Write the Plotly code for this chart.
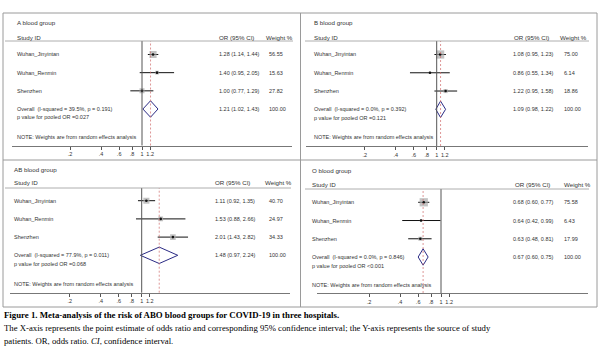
import math
import plotly.graph_objects as go

# ---------------- data ----------------
PANEL_TITLES = ["A blood group", "B blood group", "AB blood group", "O blood group"]
STUDIES = ["Wuhan_Jinyintan", "Wuhan_Renmin", "Shenzhen"]

A_OR = [1.28, 1.40, 1.00]
A_LO = [1.14, 0.95, 0.77]
A_HI = [1.44, 2.05, 1.29]
A_W = [56.55, 15.63, 27.82]
A_POOLED = [1.21, 1.02, 1.43]
A_HET = ["39.5%", "0.191"]
A_PPOOL = "=0.027"

B_OR = [1.08, 0.86, 1.22]
B_LO = [0.95, 0.55, 0.95]
B_HI = [1.23, 1.34, 1.58]
B_W = [75.00, 6.14, 18.86]
B_POOLED = [1.09, 0.98, 1.22]
B_HET = ["0.0%", "0.392"]
B_PPOOL = "=0.121"

AB_OR = [1.11, 1.53, 2.01]
AB_LO = [0.92, 0.88, 1.43]
AB_HI = [1.35, 2.66, 2.82]
AB_W = [40.70, 24.97, 34.33]
AB_POOLED = [1.48, 0.97, 2.24]
AB_HET = ["77.9%", "0.011"]
AB_PPOOL = "=0.068"

O_OR = [0.68, 0.64, 0.63]
O_LO = [0.60, 0.42, 0.48]
O_HI = [0.77, 0.99, 0.81]
O_W = [75.58, 6.43, 17.99]
O_POOLED = [0.67, 0.60, 0.75]
O_HET = ["0.0%", "0.846"]
O_PPOOL = "<0.001"

TICK_VALS = [0.2, 0.4, 0.6, 0.8, 1, 1.2]
TICK_TEXT = [".2", ".4", ".6", ".8", "1", "1.2"]
NULL_OR = 1

CAPTION_TITLE = "Figure 1. Meta-analysis of the risk of ABO blood groups for COVID-19 in three hospitals."
CAPTION_L2 = ("The X-axis represents the point estimate of odds ratio and corresponding 95% confidence "
              "interval; the Y-axis represents the source of study")
CAPTION_L3 = "patients. OR, odds ratio. <i>CI</i>, confidence interval."

PANEL_DATA = [
    (A_OR, A_LO, A_HI, A_W, A_POOLED, A_HET, A_PPOOL),
    (B_OR, B_LO, B_HI, B_W, B_POOLED, B_HET, B_PPOOL),
    (AB_OR, AB_LO, AB_HI, AB_W, AB_POOLED, AB_HET, AB_PPOOL),
    (O_OR, O_LO, O_HI, O_W, O_POOLED, O_HET, O_PPOOL),
]

# ---------------- layout geometry (pixels) ----------------
W, H = 600, 362
PX_PER_DECADE = 102.93
GEOM = [
    dict(null=142.0, ax0=12, ax1=292, hdr=41, axis=145.5, r0=54.5, r3=109.0, p=117.5, note=137.0,
         title=22.5, study=37.5, lab=15, orh=216.5, orv=216.5, wh=264, wv=267, hl0=5, hl1=293),
    dict(null=436.7, ax0=306, ax1=588, hdr=41, axis=146.0, r0=54.5, r3=109.3, p=117.7, note=136.7,
         title=22.7, study=37.5, lab=312, orh=512, orv=510.7, wh=557.7, wv=561.7, hl0=305, hl1=589),
    dict(null=141.7, ax0=10, ax1=290, hdr=188, axis=292.7, r0=200.7, r3=255.3, p=264.3, note=283.7,
         title=169.0, study=182.3, lab=12, orh=213, orv=213, wh=263, wv=267, hl0=5, hl1=291),
    dict(null=441.0, ax0=317, ax1=588, hdr=189, axis=293.0, r0=202.3, r3=257.0, p=266.3, note=284.7,
         title=170.7, study=184.3, lab=310, orh=513, orv=510.7, wh=562, wv=561.7, hl0=305, hl1=589),
]

SANS = "Liberation Sans, Arial, sans-serif"
SERIF = "Liberation Serif, Times New Roman, serif"
TXT = "#333333"
ROW_FS = 5.5
HDR_FS = 6.2


def xp(px):
    return px / W


def yp(py):
    return 1 - py / H


fig = go.Figure()
annotations = []
shapes = []

for k, (title, data, g) in enumerate(zip(PANEL_TITLES, PANEL_DATA, GEOM)):
    est, lo, hi, wts, pooled, het, ppool = data
    n = len(est)
    sfx = "" if k == 0 else str(k + 1)
    xa, ya = "x" + sfx, "y" + sfx
    s = (g["r3"] - g["r0"]) / n  # pixels per row

    xr = [(g["ax0"] - g["null"]) / PX_PER_DECADE, (g["ax1"] - g["null"]) / PX_PER_DECADE]
    fig.layout["xaxis" + sfx] = dict(
        type="log", domain=[xp(g["ax0"]), xp(g["ax1"])], range=xr, anchor=ya,
        tickvals=TICK_VALS, ticktext=TICK_TEXT, ticks="outside", ticklen=3, tickwidth=1,
        tickcolor="#555", showline=True, linecolor="#777", linewidth=1,
        showgrid=False, zeroline=False, tickfont=dict(family=SANS, size=ROW_FS, color=TXT),
        fixedrange=True,
    )
    yr = [(g["axis"] - g["r0"]) / s, (g["hdr"] - g["r0"]) / s]
    fig.layout["yaxis" + sfx] = dict(
        domain=[yp(g["axis"]), yp(g["hdr"])], range=yr, anchor=xa, visible=False,
        showgrid=False, zeroline=False, fixedrange=True,
    )

    rows = list(range(n))
    shapes.append(dict(type="line", xref=xa, yref=ya + " domain", x0=NULL_OR, x1=NULL_OR, y0=0, y1=1,
                       line=dict(color="#555", width=1)))
    shapes.append(dict(type="line", xref=xa, yref=ya + " domain", x0=pooled[0], x1=pooled[0], y0=0, y1=1,
                       line=dict(color="#d06a6a", width=0.7, dash="2px,2px")))

    cx, cy = [], []
    for i in rows:
        cx += [lo[i], hi[i], None]
        cy += [i, i, None]
    fig.add_trace(go.Scatter(x=cx, y=cy, mode="lines", line=dict(color="#111", width=1),
                             xaxis=xa, yaxis=ya, hoverinfo="skip", showlegend=False))
    fig.add_trace(go.Scatter(x=est, y=rows, mode="markers",
                             marker=dict(symbol="square", size=[0.95 * math.sqrt(w) for w in wts],
                                         color="#a9a9a9", line=dict(width=0)),
                             xaxis=xa, yaxis=ya, hoverinfo="skip", showlegend=False))
    fig.add_trace(go.Scatter(x=est, y=rows, mode="markers",
                             marker=dict(symbol="circle", size=2.6, color="#111"),
                             xaxis=xa, yaxis=ya, hoverinfo="skip", showlegend=False))
    hh = 8.2 / s
    fig.add_trace(go.Scatter(x=[pooled[1], pooled[0], pooled[2], pooled[0], pooled[1]],
                             y=[n, n - hh, n, n + hh, n], mode="lines",
                             line=dict(color="#2b2b85", width=1),
                             xaxis=xa, yaxis=ya, hoverinfo="skip", showlegend=False))

    def txt(x, y, t, size=ROW_FS, yref="paper"):
        annotations.append(dict(x=xp(x), y=y if yref != "paper" else yp(y), xref="paper", yref=yref,
                                text=t, showarrow=False, xanchor="left", yanchor="middle",
                                font=dict(family=SANS, size=size, color=TXT)))

    txt(g["lab"], g["title"], title, HDR_FS)
    txt(g["lab"], g["study"], "Study ID", HDR_FS)
    txt(g["orh"], g["study"], "OR (95% CI)", HDR_FS)
    txt(g["wh"], g["study"], "Weight %", HDR_FS)
    for i in rows:
        txt(g["lab"], i, STUDIES[i], yref=ya)
        txt(g["orv"], i, f"{est[i]:.2f} ({lo[i]:.2f}, {hi[i]:.2f})", yref=ya)
        txt(g["wv"], i, f"{wts[i]:.2f}", yref=ya)
    txt(g["lab"], n, f"Overall  (I-squared = {het[0]}, p = {het[1]})", yref=ya)
    txt(g["orv"], n, f"{pooled[0]:.2f} ({pooled[1]:.2f}, {pooled[2]:.2f})", yref=ya)
    txt(g["wv"], n, f"{sum(wts):.2f}", yref=ya)
    txt(g["lab"], g["p"], f"p value for pooled OR {ppool}")
    txt(g["lab"], g["note"], "NOTE: Weights are from random effects analysis")

    shapes.append(dict(type="line", xref="paper", yref="paper", x0=xp(g["hl0"]), x1=xp(g["hl1"]),
                       y0=yp(g["hdr"]), y1=yp(g["hdr"]), line=dict(color="#999", width=0.8)))

FR = "#9a9a9a"
shapes.append(dict(type="rect", xref="paper", yref="paper", x0=xp(3), x1=xp(597), y0=yp(307), y1=yp(13),
                   line=dict(color=FR, width=1)))
shapes.append(dict(type="line", xref="paper", yref="paper", x0=xp(300.5), x1=xp(300.5), y0=yp(307), y1=yp(13),
                   line=dict(color=FR, width=1)))
shapes.append(dict(type="line", xref="paper", yref="paper", x0=xp(3), x1=xp(597), y0=yp(160), y1=yp(160),
                   line=dict(color=FR, width=1)))

annotations.append(dict(x=xp(2), y=yp(315), xref="paper", yref="paper", text="<b>" + CAPTION_TITLE + "</b>",
                        showarrow=False, xanchor="left", yanchor="middle",
                        font=dict(family=SERIF, size=8.8, color="#000")))
annotations.append(dict(x=xp(2), y=yp(328.3), xref="paper", yref="paper", text=CAPTION_L2,
                        showarrow=False, xanchor="left", yanchor="middle",
                        font=dict(family=SERIF, size=8.73, color="#000")))
annotations.append(dict(x=xp(2), y=yp(340.7), xref="paper", yref="paper", text=CAPTION_L3,
                        showarrow=False, xanchor="left", yanchor="middle",
                        font=dict(family=SERIF, size=8.73, color="#000")))

fig.update_layout(width=W, height=H, margin=dict(l=0, r=0, t=0, b=0), autosize=False,
                  paper_bgcolor="white", plot_bgcolor="white", showlegend=False,
                  annotations=annotations, shapes=shapes)

fig.write_html("out.html", config={"displayModeBar": False},
               post_script="document.body.style.margin='0';document.body.style.overflow='hidden';")
